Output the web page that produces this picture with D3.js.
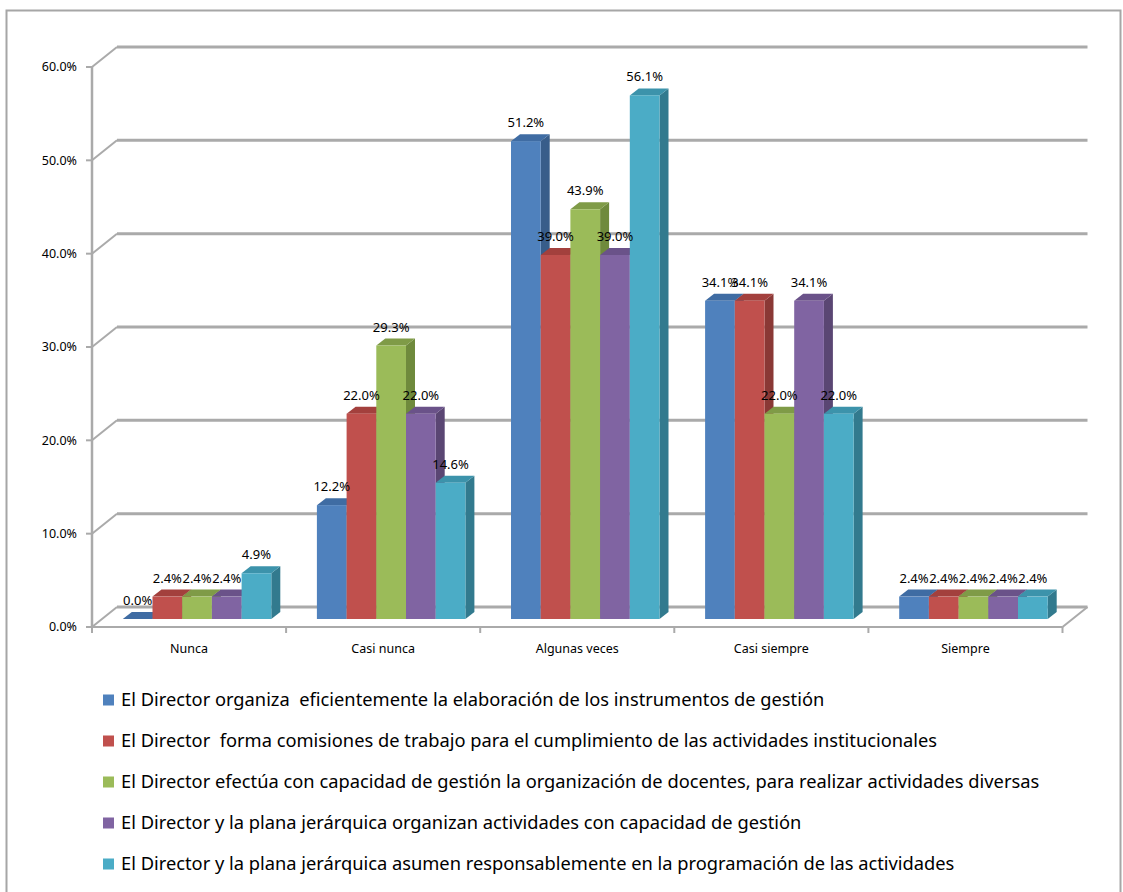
<!DOCTYPE html>
<html>
<head>
<meta charset="utf-8">
<script src="https://cdn.jsdelivr.net/npm/d3@7"></script>
<style>
  html, body { margin: 0; padding: 0; background: #fff; }
  svg { display: block; font-family: "Noto Sans", "Open Sans", sans-serif; }
</style>
</head>
<body>
<svg id="chart" width="1123" height="892"></svg>
<script>
// Response categories (x axis)
const categories = ["Nunca", "Casi nunca", "Algunas veces", "Casi siempre", "Siempre"];

// Statements (one series each, in legend order)
const seriesNames = [
  "El Director organiza  eficientemente la elaboración de los instrumentos de gestión",
  "El Director  forma comisiones de trabajo para el cumplimiento de las actividades institucionales",
  "El Director efectúa con capacidad de gestión la organización de docentes, para realizar actividades diversas",
  "El Director y la plana jerárquica organizan actividades con capacidad de gestión",
  "El Director y la plana jerárquica asumen responsablemente en la programación de las actividades"
];

// Percentages per category, one array per statement
const organizaValues   = [0.0, 12.2, 51.2, 34.1, 2.4];
const comisionesValues = [2.4, 22.0, 39.0, 34.1, 2.4];
const docentesValues   = [2.4, 29.3, 43.9, 22.0, 2.4];
const planaOrgValues   = [2.4, 22.0, 39.0, 34.1, 2.4];
const planaProgValues  = [4.9, 14.6, 56.1, 22.0, 2.4];
const seriesValues = [organizaValues, comisionesValues, docentesValues, planaOrgValues, planaProgValues];

// Value axis ticks
const yTicks = [0, 10, 20, 30, 40, 50, 60];
const yTickLabels = ["0.0%", "10.0%", "20.0%", "30.0%", "40.0%", "50.0%", "60.0%"];

// Colours: front, top, side faces
const frontColors = ["#4f81bd", "#c0504d", "#9bbb59", "#8064a2", "#4bacc6"];
const topColors   = ["#3f6ca3", "#a3403d", "#7f9b47", "#6a5289", "#3c93ab"];
const sideColors  = ["#385d8a", "#8a3835", "#6f8a3c", "#5a4673", "#327a8e"];

const svg = d3.select("#chart");

// Outer frame
svg.append("rect")
  .attr("x", 6.5).attr("y", 10.5).attr("width", 1114).attr("height", 1000)
  .attr("fill", "none").attr("stroke", "#a6a6a6").attr("stroke-width", 2);

// 3D layout: front plane, back wall offset, bar plane offset
const frontLeft = 92, frontRight = 1062.5;
const wallDX = 25, wallDY = -20;
const barDX = 8, barDY = -8;
const barDepthX = 9, barDepthY = -7;

const y = d3.scaleLinear().domain([0, 60]).range([627, 67]);
const x = d3.scaleBand().domain(categories).range([frontLeft, frontRight]).paddingInner(0).paddingOuter(0);
const groupWidth = 148.5;
const xs = d3.scaleBand().domain(d3.range(seriesNames.length)).range([0, groupWidth]);

const gridColor = "#aaaaaa";

// Back wall gridlines and side wall diagonals
const grid = svg.append("g");
yTicks.forEach(t => {
  const yf = y(t);
  grid.append("line")
    .attr("x1", frontLeft + wallDX).attr("x2", frontRight + wallDX)
    .attr("y1", yf + wallDY).attr("y2", yf + wallDY)
    .attr("stroke", gridColor).attr("stroke-width", 3);
  grid.append("line")
    .attr("x1", frontLeft).attr("y1", yf)
    .attr("x2", frontLeft + wallDX).attr("y2", yf + wallDY)
    .attr("stroke", gridColor).attr("stroke-width", 2);
});

// Floor outline (front edge and right diagonal)
grid.append("line")
  .attr("x1", frontLeft).attr("x2", frontRight)
  .attr("y1", y(0)).attr("y2", y(0))
  .attr("stroke", gridColor).attr("stroke-width", 2);
grid.append("line")
  .attr("x1", frontRight).attr("y1", y(0))
  .attr("x2", frontRight + wallDX).attr("y2", y(0) + wallDY)
  .attr("stroke", gridColor).attr("stroke-width", 2);

// Vertical value axis on the front plane
grid.append("line")
  .attr("x1", frontLeft).attr("x2", frontLeft)
  .attr("y1", y(60)).attr("y2", y(0))
  .attr("stroke", gridColor).attr("stroke-width", 2.5);
yTicks.forEach(t => {
  grid.append("line")
    .attr("x1", frontLeft - 6).attr("x2", frontLeft)
    .attr("y1", y(t)).attr("y2", y(t))
    .attr("stroke", gridColor).attr("stroke-width", 2);
});

// Category tick marks on the front floor edge
categories.forEach((c, i) => {
  grid.append("line")
    .attr("x1", x(c)).attr("x2", x(c))
    .attr("y1", y(0)).attr("y2", y(0) + 6)
    .attr("stroke", gridColor).attr("stroke-width", 2);
});
grid.append("line")
  .attr("x1", frontRight).attr("x2", frontRight)
  .attr("y1", y(0)).attr("y2", y(0) + 6)
  .attr("stroke", gridColor).attr("stroke-width", 2);

// Value axis labels
svg.append("g").selectAll("text")
  .data(yTicks)
  .join("text")
  .attr("x", 77).attr("y", d => y(d))
  .attr("dy", "0.35em")
  .attr("text-anchor", "end")
  .attr("font-size", 12.5)
  .attr("fill", "#000")
  .text((d, i) => yTickLabels[i]);

// Category labels
svg.append("g").selectAll("text")
  .data(categories)
  .join("text")
  .attr("x", d => x(d) + x.bandwidth() / 2)
  .attr("y", 653)
  .attr("text-anchor", "middle")
  .attr("font-size", 12.5)
  .attr("fill", "#000")
  .text(d => d);

// Bars (drawn left to right so each front face covers its neighbour's side)
const bars = svg.append("g");
const labels = [];
categories.forEach((c, ci) => {
  const gx = x(c) + (x.bandwidth() - groupWidth) / 2 + barDX;
  seriesValues.forEach((vals, si) => {
    const v = vals[ci];
    const x0 = gx + xs(si), x1 = x0 + xs.bandwidth();
    const yb = y(0) + barDY, yt = y(v) + barDY;
    const g = bars.append("g");
    // side face
    g.append("path")
      .attr("d", `M${x1},${yt} L${x1 + barDepthX},${yt + barDepthY} L${x1 + barDepthX},${yb + barDepthY} L${x1},${yb} Z`)
      .attr("fill", sideColors[si]);
    // top face
    g.append("path")
      .attr("d", `M${x0},${yt} L${x0 + barDepthX},${yt + barDepthY} L${x1 + barDepthX},${yt + barDepthY} L${x1},${yt} Z`)
      .attr("fill", topColors[si]);
    // front face
    if (yb - yt > 0) {
      g.append("rect")
        .attr("x", x0).attr("y", yt)
        .attr("width", x1 - x0).attr("height", yb - yt)
        .attr("fill", frontColors[si]);
    }
    labels.push({ x: (x0 + x1) / 2, y: yt - 14, text: d3.format(".1f")(v) + "%" });
  });
});

// Data labels
svg.append("g").selectAll("text")
  .data(labels)
  .join("text")
  .attr("x", d => d.x).attr("y", d => d.y)
  .attr("text-anchor", "middle")
  .attr("font-size", 13)
  .attr("fill", "#000")
  .text(d => d.text);

// Legend
const legend = svg.append("g");
const legendY = [700, 741, 782, 823, 864];
const items = legend.selectAll("g")
  .data(seriesNames)
  .join("g")
  .attr("transform", (d, i) => `translate(103,${legendY[i]})`);
items.append("rect")
  .attr("x", 0).attr("y", -5.5).attr("width", 11).attr("height", 11)
  .attr("fill", (d, i) => frontColors[i]);
const legendText = items.append("text")
  .attr("x", 18).attr("dy", "0.35em")
  .attr("font-size", 16)
  .attr("fill", "#000")
  .attr("xml:space", "preserve")
  .style("white-space", "pre")
  .text(d => d);

// Size the legend font so the longest entry spans its slot
const longest = d3.max(legendText.nodes(), n => n.getComputedTextLength());
const legendSize = 16 * 919 / longest;
legendText.attr("font-size", legendSize);
</script>
</body>
</html>
